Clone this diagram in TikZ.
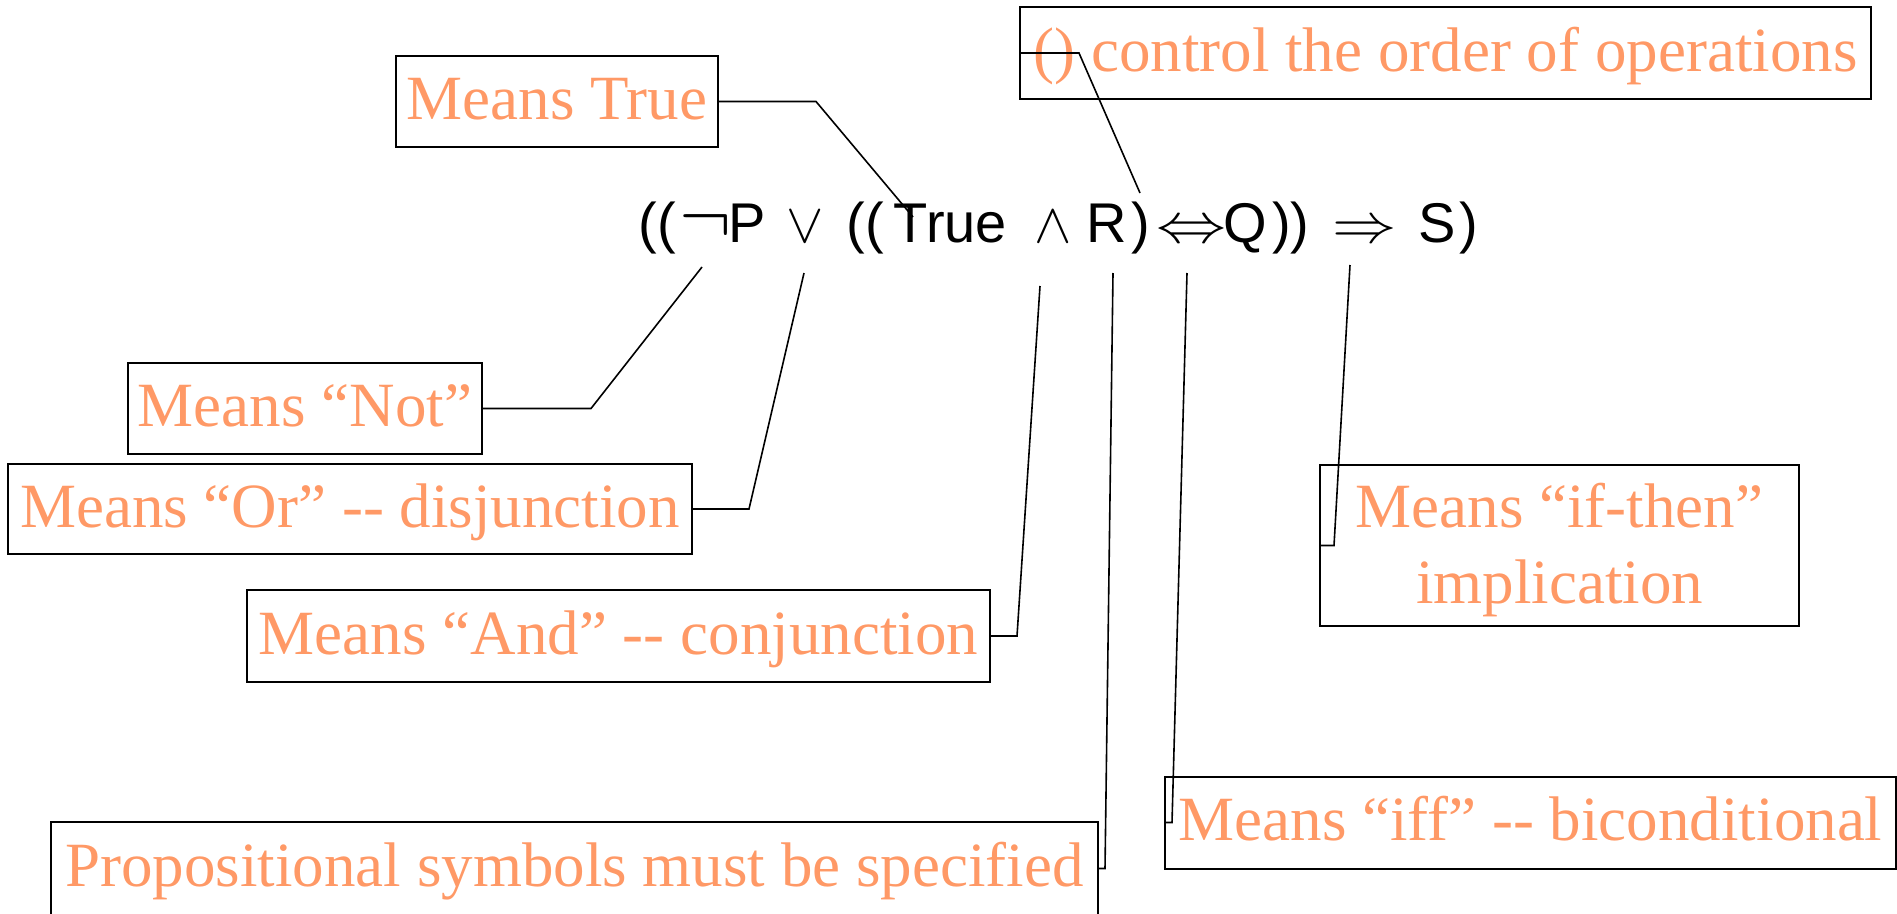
\RequirePackage{fix-cm}
\documentclass[tikz,border=0pt]{standalone}
\usepackage{fontspec}
\setmainfont{Liberation Serif}
\newfontfamily\formulafont{Liberation Sans}
\definecolor{notecolor}{RGB}{255,153,102}
\tikzset{
  note/.style={draw,line width=2pt,inner sep=0pt,minimum height=91pt,text=notecolor,
    font=\fontsize{63}{76}\selectfont,text height=40pt,text depth=4pt},
  callout/.style={line width=1.6pt},
}
\begin{document}
\begin{tikzpicture}[x=1pt,y=-1pt]
\useasboundingbox (0,0) rectangle (1897,913);
% the formula
\node[anchor=base west,inner sep=0pt,font=\formulafont\fontsize{56}{60}\selectfont] (formula) at (638.5,242)
  {((\kern3.1pt\scalebox{1.4}{$\neg$}\kern-2.5pt P\kern4.7pt{} $\vee$\kern7.3pt{} ((\kern10pt True\kern12.4pt{} $\wedge$\kern-1.2pt{} R\kern4pt)\kern6.3pt\scalebox{1.25}[1]{$\Leftrightarrow$}\kern-2.4pt Q\kern4.8pt))\kern7.9pt{} \scalebox{1.15}[1]{$\Rightarrow$}\kern5.6pt{} S\kern4.3pt)};
% where the callouts point
\coordinate (ptrue) at (913,217);
\coordinate (pparen) at (1140,193);
\coordinate (pnot) at (702,267);
\coordinate (por) at (804,273);
\coordinate (pand) at (1040,286);
\coordinate (pprop) at (1113,273);
\coordinate (piff) at (1187,273);
\coordinate (pif) at (1350,265);
% the notes
\node[note,minimum width=322pt] (mtrue) at (557,101.5) {Means True};
\node[note,minimum width=851pt,minimum height=92pt] (mparen) at (1445.5,53) {() control the order of operations};
\node[note,minimum width=354pt] (mnot) at (305,408.5) {Means “Not”};
\node[note,minimum width=684pt,minimum height=90pt] (mor) at (350,509) {Means “Or” -{}- disjunction};
\node[note,minimum width=743pt,minimum height=92pt] (mand) at (618.5,636) {Means “And” -{}- conjunction};
\node[note,minimum width=1047pt,minimum height=93pt] (mprop) at (574.5,868.5) {Propositional symbols must be specified};
\node[note,minimum width=731pt,minimum height=92pt] (miff) at (1530.5,822.5) {Means “iff” -{}- biconditional};
\node[note,minimum width=479pt,minimum height=161pt,align=center,text height=118pt,text depth=3pt] (mif) at (1559.5,545.5) {Means “if-then”\\ implication};
% callout lines
\draw[callout] (mtrue.east) -- ++(97,0) -- (ptrue);
\draw[callout] (mparen.west) -- ++(60,0) -- (pparen);
\draw[callout] (mnot.east) -- ++(108,0) -- (pnot);
\draw[callout] (mor.east) -- ++(56,0) -- (por);
\draw[callout] (mand.east) -- ++(26,0) -- (pand);
\draw[callout] (mprop.east) -- ++(6,0) -- (pprop);
\draw[callout] (miff.west) -- ++(8,0) -- (piff);
\draw[callout] (mif.west) -- ++(15,0) -- (pif);
\end{tikzpicture}
\end{document}
